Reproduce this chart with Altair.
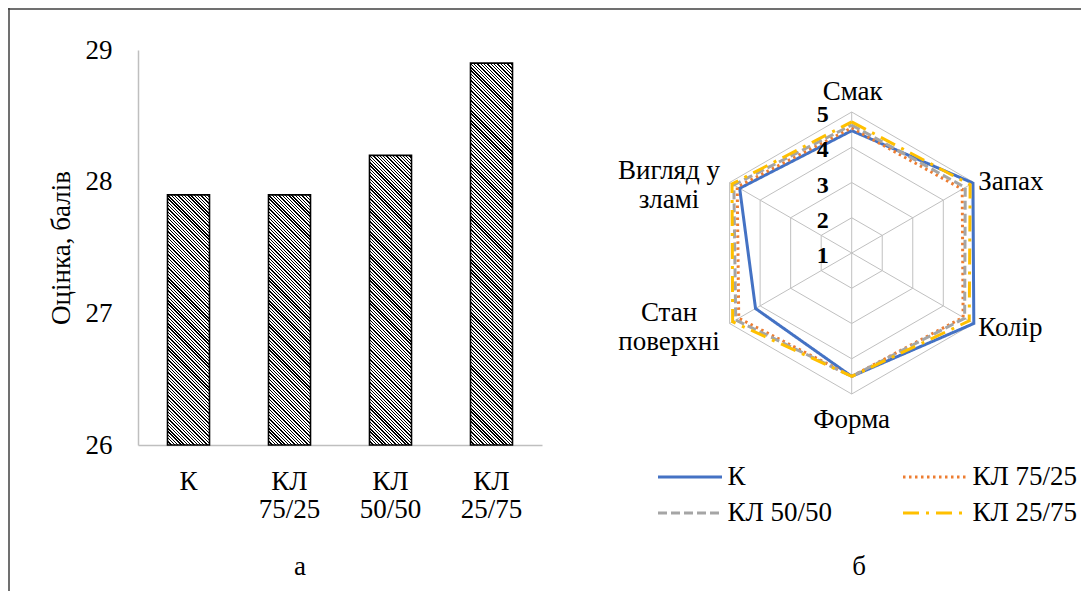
import altair as alt
import pandas as pd

# ---------------- data ----------------
categories = ["К", "КЛ 75/25", "КЛ 50/50", "КЛ 25/75"]
scores = [27.9, 27.9, 28.2, 28.9]
y_ticks = [26, 27, 28, 29]

attributes = ["Смак", "Запах", "Колір", "Форма", "Стан поверхні", "Вигляд у зламі"]
series = ["К", "КЛ 75/25", "КЛ 50/50", "КЛ 25/75"]
val_k = [4.47, 4.97, 5.0, 4.5, 4.15, 4.67]
val_7525 = [4.55, 4.62, 4.65, 4.5, 4.7, 4.75]
val_5050 = [4.63, 4.72, 4.7, 4.5, 4.8, 4.86]
val_2575 = [4.72, 4.88, 4.85, 4.5, 4.9, 4.92]
ring_levels = [1, 2, 3, 4, 5]
captions = ["а", "б"]

colors = ["#4472C4", "#ED7D31", "#A5A5A5", "#FFC000"]
dashes = [[1, 0], [2.5, 3.5], [9, 4], [16, 7, 3, 7]]

# ---------------- layout ----------------
W, H = 1073, 583
BAR_L, BAR_R = 130, 534
BAR_TOP, BAR_BOT = 42, 437
CX, CY, R = 843.7, 245.0, 141.0
FONT = "Liberation Serif, DejaVu Serif, serif"
FS = 27
BAR_W = 42

# ---------------- bar chart ----------------
bar_df = pd.DataFrame({"cat": categories, "score": scores})
xs = alt.Scale(type="band", domain=categories, range=[BAR_L, BAR_R],
               paddingInner=0, paddingOuter=0)
ys = alt.Scale(domain=[26, 29], range=[BAR_BOT, BAR_TOP], nice=False, zero=False)

xaxis = alt.Axis(orient="bottom", offset=-(H - BAR_BOT), title=None, ticks=False,
                 domainColor="#bfbfbf", domainWidth=1.5, labelFont=FONT,
                 labelFontSize=FS, labelColor="black", labelAngle=0,
                 labelPadding=23, labelBaseline="top", labelLineHeight=28,
                 labelExpr="split(datum.label, ' ')", grid=False,
                 labelFlush=False, labelOverlap=False)
yaxis = alt.Axis(orient="left", offset=-BAR_L, values=y_ticks, format="d",
                 ticks=False, grid=False, domainColor="#bfbfbf", domainWidth=1.5,
                 labelFont=FONT, labelFontSize=FS, labelColor="black",
                 labelPadding=26, labelFlush=False, labelOverlap=False,
                 title="Оцінка, балів", titleFont=FONT, titleFontSize=FS,
                 titleFontWeight="normal", titleColor="black",
                 titleX=53 - BAR_L, titleY=(BAR_TOP + BAR_BOT) / 2,
                 titleAngle=270, titleBaseline="middle", titleAlign="center")


def hatch(value):
    w = float(BAR_W)
    h = (value - 26) / 3 * (BAR_BOT - BAR_TOP)
    s = (w + h) / (w * w + h * h)
    n = max(1, round((w + h) / 3.3))
    stops = []
    for i in range(n):
        a = round(i / n, 5)
        b = round((i + 0.42) / n, 5)
        c = round((i + 1) / n, 5)
        stops += [{"offset": a, "color": "#000000"},
                  {"offset": b, "color": "#000000"},
                  {"offset": b, "color": "#ffffff"},
                  {"offset": c, "color": "#ffffff"}]
    return {"gradient": "linear", "x1": 0, "y1": 1,
            "x2": round(w * s, 5), "y2": round(1 - h * s, 5), "stops": stops}


bar_layers = []
for cat, v in zip(categories, scores):
    bar_layers.append(
        alt.Chart(bar_df)
        .transform_filter(alt.datum.cat == cat)
        .mark_bar(size=BAR_W, fill=hatch(v), stroke="black", strokeWidth=1.6)
        .encode(x=alt.X("cat:N", scale=xs, axis=xaxis),
                y=alt.Y("score:Q", scale=ys, axis=yaxis),
                y2=alt.Y2Datum(26))
    )
bars = alt.layer(*bar_layers)

# ---------------- radar chart ----------------
rx = alt.Scale(domain=[-1, 1], range=[CX - R, CX + R], nice=False, zero=False)
ry = alt.Scale(domain=[-1, 1], range=[CY + R, CY - R], nice=False, zero=False)

radar_rows = []
for s, vals in zip(series, [val_k, val_7525, val_5050, val_2575]):
    for i in range(7):
        radar_rows.append({"series": s, "idx": i, "k": i % 6, "value": vals[i % 6]})
radar_df = pd.DataFrame(radar_rows)

grid_rows = []
for lv in ring_levels[1:]:
    for i in range(7):
        grid_rows.append({"level": lv, "idx": i, "k": i % 6})
grid_df = pd.DataFrame(grid_rows)

spoke_df = pd.DataFrame({"k": list(range(6)), "level": [ring_levels[-1]] * 6})
ringlab_df = pd.DataFrame({"level": ring_levels, "label": [str(l) for l in ring_levels]})


def display_name(a):
    if a == "Стан поверхні":
        return a.replace(" ", "\n", 1)
    if a == "Вигляд у зламі":
        return "\n".join(a.rsplit(" ", 1))
    return a


catlab_df = pd.DataFrame({"k": list(range(6)), "attr": [display_name(a) for a in attributes],
                          "level": [ring_levels[-1]] * 6})

ang = "datum.k * PI / 3"

grid = (alt.Chart(grid_df)
        .transform_calculate(r="(datum.level - 1) / 4")
        .transform_calculate(px=f"datum.r * sin({ang})", py=f"datum.r * cos({ang})")
        .mark_line(stroke="#c0c0c0", strokeWidth=1)
        .encode(x=alt.X("px:Q", scale=rx, axis=None),
                y=alt.Y("py:Q", scale=ry, axis=None),
                detail="level:N", order="idx:Q"))

spokes = (alt.Chart(spoke_df)
          .transform_calculate(r="(datum.level - 1) / 4")
          .transform_calculate(px=f"datum.r * sin({ang})", py=f"datum.r * cos({ang})", z="0")
          .mark_rule(stroke="#c0c0c0", strokeWidth=1)
          .encode(x=alt.X("z:Q", scale=rx, axis=None),
                  y=alt.Y("z:Q", scale=ry, axis=None),
                  x2="px:Q", y2="py:Q"))

leg = alt.Legend(title=None, orient="none", legendX=648.5, legendY=454, columns=2,
                 direction="horizontal",
                 columnPadding=69, rowPadding=6, clipHeight=30, symbolType="stroke",
                 symbolSize=4096, symbolStrokeWidth=3, labelFont=FONT,
                 labelFontSize=FS, labelColor="black", labelOffset=4, padding=0)

lines = (alt.Chart(radar_df)
         .transform_calculate(r="(datum.value - 1) / 4")
         .transform_calculate(px=f"datum.r * sin({ang})", py=f"datum.r * cos({ang})")
         .mark_line(strokeWidth=3)
         .encode(x=alt.X("px:Q", scale=rx, axis=None),
                 y=alt.Y("py:Q", scale=ry, axis=None),
                 color=alt.Color("series:N", scale=alt.Scale(domain=series, range=colors), legend=leg),
                 strokeDash=alt.StrokeDash("series:N", scale=alt.Scale(domain=series, range=dashes), legend=leg),
                 detail="series:N", order="idx:Q"))

ringlabels = (alt.Chart(ringlab_df)
              .transform_calculate(py="(datum.level - 1) / 4", z="0")
              .mark_text(font=FONT, fontSize=24, fontWeight="bold", align="right",
                         baseline="middle", dx=-23, dy=3, color="black")
              .encode(x=alt.X("z:Q", scale=rx, axis=None),
                      y=alt.Y("py:Q", scale=ry, axis=None),
                      text="label:N"))

label_specs = {0: ("center", 1, -12), 1: ("left", 4.5, 7), 2: ("left", 4.5, 12.5),
               3: ("center", 0, 34), 4: ("center", -60.6, -3), 5: ("center", -60.6, -4)}
cat_layers = []
for k, (al, dx, dy) in label_specs.items():
    cat_layers.append(
        alt.Chart(catlab_df)
        .transform_filter(alt.datum.k == k)
        .transform_calculate(r="(datum.level - 1) / 4")
        .transform_calculate(px=f"datum.r * sin({ang})", py=f"datum.r * cos({ang})")
        .mark_text(font=FONT, fontSize=FS, align=al, baseline="alphabetic", dx=dx, dy=dy,
                   color="black", lineBreak="\n", lineHeight=29)
        .encode(x=alt.X("px:Q", scale=rx, axis=None),
                y=alt.Y("py:Q", scale=ry, axis=None),
                text="attr:N"))

radar = alt.layer(grid, spokes, lines, ringlabels, *cat_layers)

# ---------------- captions and frame ----------------
cap_df = pd.DataFrame({"t": captions})
cap_a = (alt.Chart(cap_df).transform_filter(alt.datum.t == captions[0])
         .mark_text(font=FONT, fontSize=FS, color="black", baseline="alphabetic", align="center")
         .encode(x=alt.value(292), y=alt.value(567), text="t:N"))
cap_b = (alt.Chart(cap_df).transform_filter(alt.datum.t == captions[1])
         .mark_text(font=FONT, fontSize=FS, color="black", baseline="alphabetic", align="center")
         .encode(x=alt.value(851), y=alt.value(567), text="t:N"))

frame_df = pd.DataFrame({"f": [0]})
frame_top = (alt.Chart(frame_df).mark_rule(stroke="#404040", strokeWidth=1.5)
             .encode(x=alt.value(0), x2=alt.value(W), y=alt.value(1)))
frame_left = (alt.Chart(frame_df).mark_rule(stroke="#404040", strokeWidth=1.5)
              .encode(x=alt.value(1), y=alt.value(0), y2=alt.value(H)))

chart = (alt.layer(bars, radar, cap_a, cap_b, frame_top, frame_left)
         .resolve_scale(x="independent", y="independent")
         .properties(width=W, height=H, autosize=alt.AutoSizeParams(type="none"), padding=0)
         .configure(font=FONT)
         .configure_view(stroke=None))

chart.save("out.html", embed_options={"renderer": "svg", "actions": False})
